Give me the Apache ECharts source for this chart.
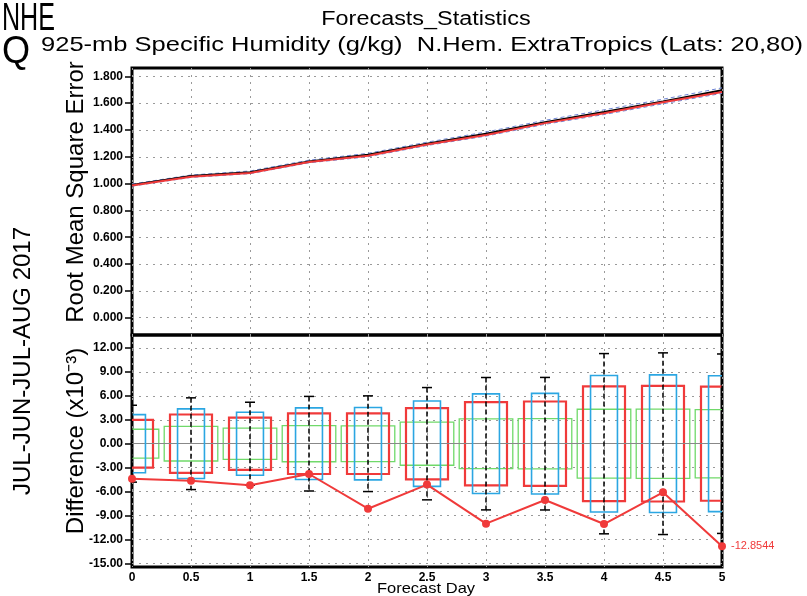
<!DOCTYPE html>
<html>
<head>
<meta charset="utf-8">
<script src="https://cdn.jsdelivr.net/npm/echarts@6/dist/echarts.min.js"></script>
<style>
  html, body { margin: 0; padding: 0; background: #fff; }
  #chart { width: 807px; height: 596px; }
</style>
</head>
<body>
<div id="chart"></div>
<script>
// Forecast lead times (days)
const days = [0, 0.5, 1, 1.5, 2, 2.5, 3, 3.5, 4, 4.5, 5];

// RMSE of 925-mb specific humidity (g/kg)
const rmseBlack = [0.990, 1.056, 1.085, 1.165, 1.215, 1.297, 1.372, 1.458, 1.534, 1.612, 1.69593];
const rmseRed   = [0.9856, 1.0514, 1.0798, 1.1612, 1.2069, 1.2919, 1.3620, 1.4509, 1.5239, 1.6059, 1.68308];
const rmseUpper = [0.997, 1.064, 1.094, 1.175, 1.226, 1.309, 1.385, 1.472, 1.550, 1.629, 1.714];
const rmseLower = [0.981, 1.046, 1.074, 1.155, 1.200, 1.284, 1.354, 1.442, 1.515, 1.595, 1.673];

// Difference (x10^-3): mean and symmetric half-ranges of boxes / whiskers
const meanDiff  = [-4.39, -4.64, -5.22, -3.80, -8.15, -5.13, -10.03, -7.06, -10.07, -6.10, -12.8544];
const redHalf   = [3.00, 3.66, 3.28, 3.80, 3.80, 4.47, 5.22, 5.29, 7.19, 7.25, 7.15];
const blueHalf  = [3.64, 4.37, 3.95, 4.49, 4.53, 5.35, 6.25, 6.31, 8.56, 8.63, 8.52];
const greenHalf = [1.81, 2.17, 1.96, 2.26, 2.24, 2.70, 3.12, 3.15, 4.32, 4.34, 4.28];
const errHalf   = [4.82, 5.75, 5.20, 5.93, 6.00, 7.04, 8.30, 8.31, 11.30, 11.39, 11.25];

// Tick values
const rmseTicks = [0, 0.2, 0.4, 0.6, 0.8, 1.0, 1.2, 1.4, 1.6, 1.8];
const diffTicks = [-15, -12, -9, -6, -3, 0, 3, 6, 9, 12];
const dayTicks  = [0, 0.5, 1, 1.5, 2, 2.5, 3, 3.5, 4, 4.5, 5];

const FONT = 'Liberation Sans, Arial, sans-serif';
const RED = '#f03a3a';
const BLUE = '#2ba6e2';
const GREEN = '#70d96a';
const DASHBLUE = '#6f86d6';

const pairs = (ys) => days.map((d, i) => [d, ys[i]]);
const withEndLabel = (ys, color, offY) => days.map((d, i) => {
  const item = { value: [d, ys[i]] };
  if (i === ys.length - 1) {
    item.label = {
      show: true, position: 'right', distance: 5, offset: [0, offY],
      color: color, fontSize: 11, fontFamily: FONT,
      formatter: (p) => String(p.value[1])
    };
  }
  return item;
});

function boxRenderer(halfWidth, color, lw) {
  return function (params, api) {
    const x = api.value(0), h = api.value(1);
    const p1 = api.coord([x - halfWidth, h]);
    const p2 = api.coord([x + halfWidth, -h]);
    return {
      type: 'rect',
      shape: { x: p1[0], y: p1[1], width: p2[0] - p1[0], height: p2[1] - p1[1] },
      style: { fill: 'none', stroke: color, lineWidth: lw }
    };
  };
}

function whiskerRenderer(params, api) {
  const x = api.value(0), h = api.value(1);
  const top = api.coord([x, h]);
  const bot = api.coord([x, -h]);
  const cap = 5;
  return {
    type: 'group',
    children: [
      { type: 'line', shape: { x1: top[0], y1: top[1], x2: bot[0], y2: bot[1] },
        style: { stroke: '#000', lineWidth: 1.5, lineDash: [5, 3] } },
      { type: 'line', shape: { x1: top[0] - cap, y1: top[1], x2: top[0] + cap, y2: top[1] },
        style: { stroke: '#000', lineWidth: 1.5 } },
      { type: 'line', shape: { x1: bot[0] - cap, y1: bot[1], x2: bot[0] + cap, y2: bot[1] },
        style: { stroke: '#000', lineWidth: 1.5 } }
    ]
  };
}

const gridLine = { show: true, lineStyle: { color: '#9a9a9a', width: 1, type: [2, 5] } };
const tickLabel = { color: '#000', fontSize: 12, fontWeight: 'bold', fontFamily: FONT };

const chart = echarts.init(document.getElementById('chart'), null, { renderer: 'canvas' });
chart.setOption({
  backgroundColor: '#fff',
  animation: false,
  grid: [
    { left: 132, top: 68, width: 590, height: 267, show: true, borderColor: '#000', borderWidth: 3 },
    { left: 132, top: 335, width: 590, height: 232, show: true, borderColor: '#000', borderWidth: 3 }
  ],
  xAxis: [
    { gridIndex: 0, type: 'value', min: 0, max: 5, interval: 0.5,
      axisLine: { show: false }, axisTick: { show: false }, axisLabel: { show: false },
      splitLine: gridLine },
    { gridIndex: 1, type: 'value', min: 0, max: 5, interval: 0.5,
      axisLine: { show: false }, axisTick: { show: false },
      axisLabel: Object.assign({ customValues: dayTicks, margin: 5 }, tickLabel),
      splitLine: gridLine }
  ],
  yAxis: [
    { gridIndex: 0, type: 'value', min: -0.129, max: 1.862,
      axisLine: { show: false },
      axisTick: { show: true, customValues: rmseTicks, length: 7, lineStyle: { color: '#000', width: 1.5 } },
      axisLabel: Object.assign({ customValues: rmseTicks, formatter: (v) => v.toFixed(3), margin: 9 }, tickLabel),
      splitLine: gridLine },
    { gridIndex: 1, type: 'value', min: -15.46, max: 13.63,
      axisLine: { show: false },
      axisTick: { show: true, customValues: diffTicks, length: 7, lineStyle: { color: '#000', width: 1.5 } },
      axisLabel: Object.assign({ customValues: diffTicks, formatter: (v) => v.toFixed(2), margin: 9 }, tickLabel),
      splitLine: gridLine }
  ],
  series: [
    // RMSE panel
    { type: 'line', xAxisIndex: 0, yAxisIndex: 0, data: pairs(rmseUpper), symbol: 'none',
      lineStyle: { color: DASHBLUE, width: 1, type: [4, 3] }, z: 3 },
    { type: 'line', xAxisIndex: 0, yAxisIndex: 0, data: pairs(rmseLower), symbol: 'none',
      lineStyle: { color: DASHBLUE, width: 1, type: [4, 3] }, z: 3 },
    { type: 'line', xAxisIndex: 0, yAxisIndex: 0, data: withEndLabel(rmseBlack, '#000', -5), symbol: 'none',
      lineStyle: { color: '#000', width: 2 }, z: 4 },
    { type: 'line', xAxisIndex: 0, yAxisIndex: 0, data: withEndLabel(rmseRed, RED, 2), symbol: 'none',
      lineStyle: { color: RED, width: 2 }, z: 5 },

    // Difference panel: zero line
    { type: 'line', xAxisIndex: 1, yAxisIndex: 1, data: [], symbol: 'none',
      markLine: { silent: true, symbol: 'none', label: { show: false },
                  lineStyle: { color: '#888', width: 1, type: 'solid' }, data: [{ yAxis: 0 }] } },
    // Boxes
    { type: 'custom', xAxisIndex: 1, yAxisIndex: 1, clip: true, z: 3,
      renderItem: boxRenderer(0.227, GREEN, 1.3), data: pairs(greenHalf) },
    { type: 'custom', xAxisIndex: 1, yAxisIndex: 1, clip: true, z: 4,
      renderItem: boxRenderer(0.178, RED, 2.2), data: pairs(redHalf) },
    { type: 'custom', xAxisIndex: 1, yAxisIndex: 1, clip: true, z: 5,
      renderItem: boxRenderer(0.114, BLUE, 1.6), data: pairs(blueHalf) },
    // Whiskers
    { type: 'custom', xAxisIndex: 1, yAxisIndex: 1, clip: true, z: 6,
      renderItem: whiskerRenderer, data: pairs(errHalf) },
    // Mean difference
    { type: 'line', xAxisIndex: 1, yAxisIndex: 1, z: 7,
      data: withEndLabel(meanDiff, RED, 0),
      symbol: 'circle', symbolSize: 8,
      itemStyle: { color: RED }, lineStyle: { color: RED, width: 2 } }
  ],
  graphic: [
    { type: 'text', x: 2, y: 20, scaleX: 0.66,
      style: { text: 'NHE', font: '38px ' + FONT, fill: '#000', textAlign: 'left', textVerticalAlign: 'middle' } },
    { type: 'text', x: 2, y: 53, scaleX: 0.95,
      style: { text: 'Q', font: '38px ' + FONT, fill: '#000', textAlign: 'left', textVerticalAlign: 'middle' } },
    { type: 'text', x: 426, y: 19, scaleX: 1.17,
      style: { text: 'Forecasts_Statistics', font: '20px ' + FONT, fill: '#000', textAlign: 'center', textVerticalAlign: 'middle' } },
    { type: 'text', x: 41, y: 45, scaleX: 1.215,
      style: { text: '925-mb Specific Humidity (g/kg)  N.Hem. ExtraTropics (Lats: 20,80)', font: '21px ' + FONT,
               fill: '#000', textAlign: 'left', textVerticalAlign: 'middle' } },
    { type: 'text', x: 23, y: 361, rotation: Math.PI / 2,
      style: { text: 'JUL-JUN-JUL-AUG 2017', font: '24px ' + FONT, fill: '#000', textAlign: 'center', textVerticalAlign: 'middle' } },
    { type: 'text', x: 76, y: 192, rotation: Math.PI / 2,
      style: { text: 'Root Mean Square Error', font: '24px ' + FONT, fill: '#000', textAlign: 'center', textVerticalAlign: 'middle' } },
    { type: 'text', x: 76, y: 441, rotation: Math.PI / 2,
      style: { text: 'Difference (x10⁻³)', font: '24px ' + FONT, fill: '#000', textAlign: 'center', textVerticalAlign: 'middle' } },
    { type: 'text', x: 426, y: 589, scaleX: 1.1,
      style: { text: 'Forecast Day', font: '15px ' + FONT, fill: '#000', textAlign: 'center', textVerticalAlign: 'middle' } }
  ]
});
</script>
</body>
</html>
